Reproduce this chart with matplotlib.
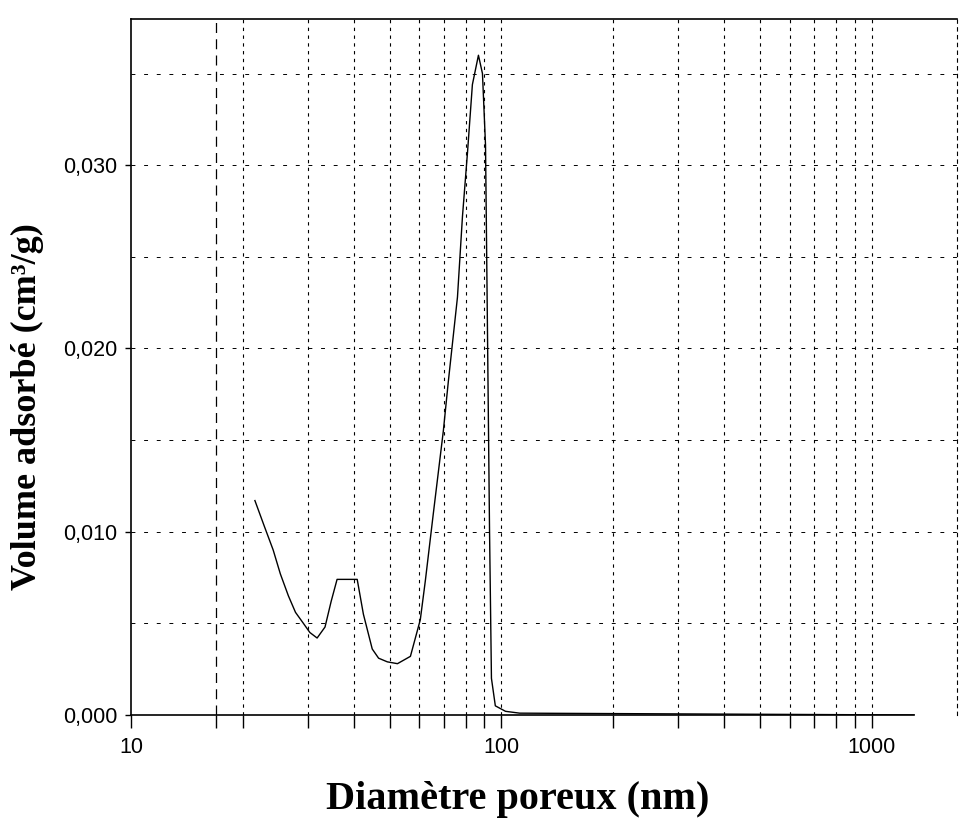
import matplotlib
matplotlib.use('Agg')
import matplotlib.pyplot as plt
from matplotlib.ticker import FixedLocator, NullFormatter

# pore diameter (nm) and adsorbed volume (cm3/g)
diameter = [21.6, 22.9, 24.2, 25.3, 26.6, 27.8, 29.2, 30.4, 31.8, 33.4,
            34.7, 36.0, 40.8, 42.4, 44.8, 46.6, 49.2, 52.4, 56.8, 60.4,
            62.3, 65.5, 69.7, 71.9, 76.1, 78.5, 81.0, 83.5, 86.7, 88.9,
            90.6, 91.5, 92.9, 94.0, 96.3, 102.6, 112.0, 1300.0]
volume = [0.0117, 0.0103, 0.0090, 0.0077, 0.0065, 0.0056, 0.0050, 0.0045, 0.0042, 0.0048,
          0.0062, 0.0074, 0.0074, 0.0055, 0.0036, 0.0031, 0.0029, 0.0028, 0.0032, 0.0052,
          0.0073, 0.0110, 0.0155, 0.0182, 0.0228, 0.0272, 0.0307, 0.0344, 0.0360, 0.0350,
          0.0311, 0.0229, 0.0100, 0.0020, 0.0005, 0.0002, 0.0001, 0.0]

y_ticks = [0.000, 0.010, 0.020, 0.030]
y_tick_labels = ['0,000', '0,010', '0,020', '0,030']
y_grid = [0.005, 0.010, 0.015, 0.020, 0.025, 0.030, 0.035]
x_ticks = [10, 100, 1000]
x_tick_labels = ['10', '100', '1000']
x_minor = [17, 20, 30, 40, 50, 60, 70, 80, 90, 200, 300, 400, 500, 600, 700, 800, 900]
x_extra = 17  # long dashed line at the left of the grid

fig = plt.figure(figsize=(9.65, 8.34), dpi=100)
ax = fig.add_axes([0.1358, 0.1427, 0.856, 0.835])

ax.set_xscale('log')
ax.set_xlim(10, 1700)
ax.set_ylim(0, 0.038)

# dotted printer-style grid
for xv in x_minor[1:] + [100, 1000]:
    ax.axvline(xv, color='black', lw=0.8, ls=(0, (3, 4)), zorder=1)
ax.axvline(x_extra, color='black', lw=0.9, ls=(0, (8, 5)), zorder=1)
for yv in y_grid:
    ax.axhline(yv, color='black', lw=0.7, ls=(0, (4, 9)), zorder=1)

ax.plot(diameter, volume, color='black', lw=1.0, zorder=3)

ax.xaxis.set_major_locator(FixedLocator(x_ticks))
ax.set_xticklabels(x_tick_labels)
ax.xaxis.set_minor_locator(FixedLocator(x_minor))
ax.xaxis.set_minor_formatter(NullFormatter())
ax.set_yticks(y_ticks)
ax.set_yticklabels(y_tick_labels)

ax.tick_params(axis='x', which='major', direction='out', length=9, width=1, pad=7,
               labelsize=15.5)
ax.tick_params(axis='x', which='minor', direction='out', length=9, width=1)
ax.tick_params(axis='y', direction='out', length=4, width=1, pad=6, labelsize=15.5)
for lab in ax.get_xticklabels() + ax.get_yticklabels():
    lab.set_fontfamily('Liberation Sans')

for side in ['left', 'bottom', 'top']:
    ax.spines[side].set_linewidth(1.2)
ax.spines['bottom'].set_bounds(10, 1300)
ax.spines['right'].set_linewidth(0.8)
ax.spines['right'].set_linestyle((0, (3, 4)))

ax.set_xlabel('Diamètre poreux (nm)', fontfamily='Liberation Serif', fontweight='bold',
              fontsize=29)
ax.set_ylabel('Volume adsorbé (cm³/g)', fontfamily='Liberation Serif', fontweight='bold',
              fontsize=26)
ax.xaxis.set_label_coords(0.468, -0.122)
ax.xaxis.label.set_va('center')
ax.yaxis.set_label_coords(-0.125, 0.443)
ax.yaxis.label.set_va('center')

fig.savefig('out.png', dpi=100)
